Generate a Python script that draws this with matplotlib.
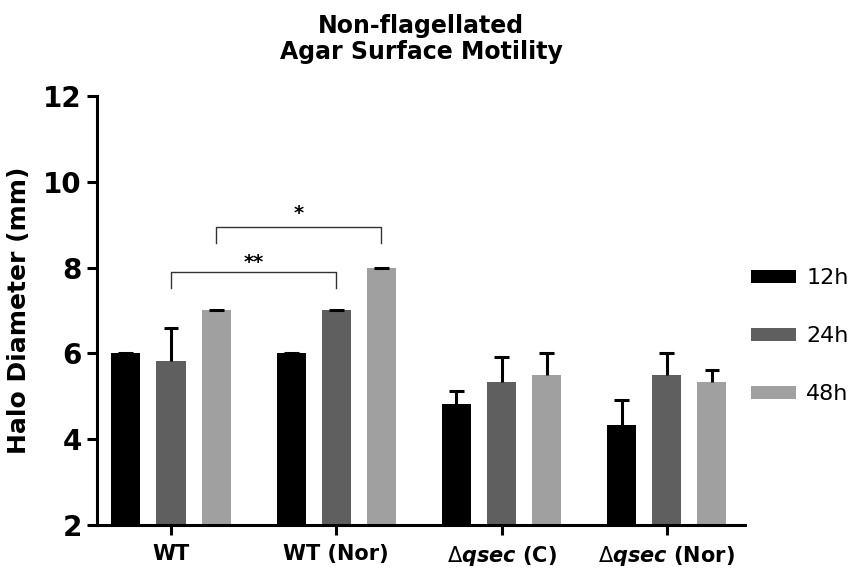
import numpy as np
import matplotlib
matplotlib.use("Agg")
import matplotlib.pyplot as plt

plt.rcParams['font.family'] = 'DejaVu Sans'
plt.rcParams['mathtext.fontset'] = 'custom'
plt.rcParams['mathtext.rm'] = 'DejaVu Sans'
plt.rcParams['mathtext.it'] = 'DejaVu Sans:italic:bold'
plt.rcParams['mathtext.bf'] = 'DejaVu Sans:bold'

# strains and halo diameters (mean, SD) per time point
strains = ['WT', 'WT (Nor)', r'$\Delta\mathit{qsec}$ (C)', r'$\Delta\mathit{qsec}$ (Nor)']
times = ['12h', '24h', '48h']
h12 = [6.0, 6.0, 4.83, 4.33]
h24 = [5.83, 7.0, 5.33, 5.5]
h48 = [7.0, 8.0, 5.5, 5.33]
e12 = [0, 0, 0.29, 0.58]
e24 = [0.76, 0, 0.58, 0.5]
e48 = [0, 0, 0.5, 0.29]

# significance brackets: (group1, bar1, group2, bar2, label)
sig = [(0, 1, 1, 1, '**'), (0, 2, 1, 2, '*')]

colors = ['#000000', '#5f5f5f', '#a0a0a0']
means = [h12, h24, h48]
errs = [e12, e24, e48]

fig = plt.figure(figsize=(8.49, 5.68), dpi=100)
ax = fig.add_axes([97/849, 43/568, 648/849, 429/568])

x = np.arange(len(strains))
step = 0.273
width = 0.176
cap = 0.045
handles = []
for i in range(3):
    xi = x + (i - 1) * step
    m = np.array(means[i])
    top = m + np.array(errs[i])
    b = ax.bar(xi, m, width, color=colors[i], label=times[i], zorder=2)
    handles.append(b)
    # upper error bar only (SD)
    ax.vlines(xi, m, top, color='black', lw=2.2, zorder=3)
    ax.hlines(top, xi - cap, xi + cap, color='black', lw=2.2, zorder=3)

# brackets
levels = [(7.52, 7.90, 8.13), (8.57, 8.95, 9.27)]
for (g1, b1, g2, b2, lab), (lo, hi, ty) in zip(sig, levels):
    x1 = g1 + (b1 - 1) * step
    x2 = g2 + (b2 - 1) * step
    ax.plot([x1, x1, x2, x2], [lo, hi, hi, lo], color='#333333', lw=1.0, zorder=4)
    ax.text((x1 + x2) / 2, ty, lab, ha='center', va='center', fontsize=14,
            fontweight='bold')

ax.set_xlim(-0.448, 3.473)
ax.set_ylim(2, 12)
ax.set_yticks([2, 4, 6, 8, 10, 12])
ax.set_xticks(x)
ax.set_xticklabels(strains, fontsize=15, fontweight='bold')
for lab in ax.get_yticklabels():
    lab.set_fontsize(20)
    lab.set_fontweight('bold')

for s in ['top', 'right']:
    ax.spines[s].set_visible(False)
for s in ['left', 'bottom']:
    ax.spines[s].set_linewidth(2.2)
ax.tick_params(axis='y', width=2.2, length=7, pad=4)
ax.tick_params(axis='x', width=2.2, length=7, pad=7)

ax.set_ylabel('Halo Diameter (mm)', fontsize=18, fontweight='bold', labelpad=9)
ax.set_title('Non-flagellated\nAgar Surface Motility', fontsize=17,
             fontweight='bold', pad=27, linespacing=1.1)

fig.legend(handles=handles, labels=times, loc='upper left',
           bbox_to_anchor=(751/849, 1 - 268/568), frameon=False, fontsize=16,
           handlelength=2.03, handleheight=0.54, handletextpad=0.45,
           labelspacing=1.72, borderpad=0, borderaxespad=0)

fig.savefig('out.png', dpi=100)
